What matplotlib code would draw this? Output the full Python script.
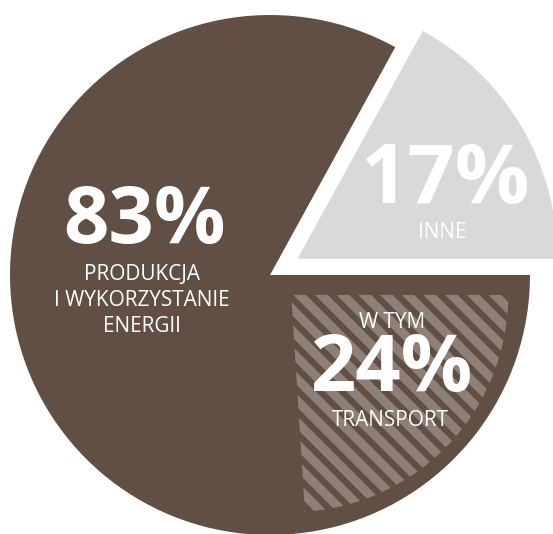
import matplotlib
matplotlib.use("Agg")
import matplotlib.pyplot as plt
from matplotlib.patches import Wedge
import numpy as np

# data
shares = [17, 83]            # INNE, PRODUKCJA I WYKORZYSTANIE ENERGII
transport_share = 24         # w tym transport (part of 83%)
colors = ["#d9d9d9", "#614f43"]
stripe_color = "#8e8077"

W, H, DPI = 553, 534, 130
plt.rcParams["font.family"] = ["Open Sans", "DejaVu Sans"]

fig = plt.figure(figsize=(W / DPI, H / DPI), dpi=DPI)
ax = fig.add_axes([0, 0, 1, 1])

# pie geometry in pixels
cx, cy, r = 270, 275, 260

ax.pie(shares, colors=colors, startangle=0, counterclock=True,
       explode=[0.123, 0], radius=1,
       wedgeprops=dict(linewidth=0))

# hatched transport wedge inside the brown slice
span = transport_share / 100 * 360
mid = np.deg2rad(-span / 2)
off = 0.112
wr = 0.835
wx, wy = off * np.cos(mid), off * np.sin(mid)
wedge = Wedge((wx, wy), wr, -span, 0, facecolor=colors[1], linewidth=0)
ax.add_patch(wedge)

# diagonal stripes clipped to the wedge
step = 0.0834
stripe_lw = 9 * 72 / DPI
for c in np.arange(wx - wr - 0.05, wx + wr + 0.1, step):
    ln, = ax.plot([c - 1.5, c + 1.5], [wy + 1.5, wy - 1.5],
                  color=stripe_color, lw=stripe_lw, solid_capstyle="butt")
    ln.set_clip_path(wedge)

ax.set_xlim(-cx / r, (W - cx) / r)
ax.set_ylim(-(H - cy) / r, cy / r)
ax.set_aspect("auto")
ax.axis("off")


def txt(px, py, s, size, bold=False):
    fig.text(px / W, 1 - py / H, s, color="white", fontsize=size,
             fontweight="bold" if bold else "normal",
             ha="center", va="center")


txt(145, 222, "83%", 44, True)
txt(142, 274, "PRODUKCJA", 11.5)
txt(142, 301, "I WYKORZYSTANIE", 11.5)
txt(142, 327, "ENERGII", 11.5)

txt(445, 181, "17%", 46, True)
txt(442, 232, "INNE", 11.5)

txt(392, 322, "W TYM", 11.5)
txt(391, 370, "24%", 44, True)
txt(390, 420, "TRANSPORT", 11.5)

fig.savefig("out.png", dpi=DPI)
